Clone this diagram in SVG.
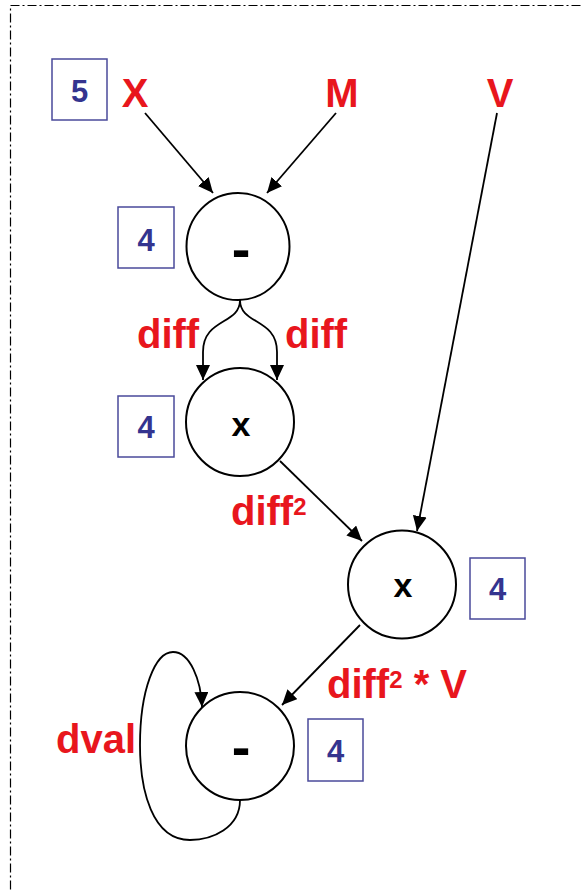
<svg xmlns="http://www.w3.org/2000/svg" width="582" height="892" viewBox="0 0 582 892">
<style>
.lbl{font-family:"Liberation Sans",Arial,sans-serif;font-weight:bold;font-size:40px;fill:#e8161d}
.num{font-family:"Liberation Sans",Arial,sans-serif;font-weight:bold;font-size:31px;fill:#34348f;text-anchor:middle}
.op{font-family:"Liberation Sans",Arial,sans-serif;font-weight:bold;fill:#000;text-anchor:middle}
.box{fill:#fff;stroke:#4a4a9a;stroke-width:1.5}
.node{fill:#fff;stroke:#000;stroke-width:2}
.edge{fill:none;stroke:#000;stroke-width:1.8}
</style>
<defs>
<marker id="ah" markerUnits="userSpaceOnUse" markerWidth="18" markerHeight="16" refX="15" refY="7" orient="auto">
<path d="M0,0 L15,7 L0,14 Z" fill="#000"/>
</marker>
</defs>
<rect x="10.5" y="5.5" width="700" height="1000" fill="#fff" stroke="#000" stroke-width="1.2" stroke-dasharray="9,3,2,3"/>

<g id="connectors">
<line class="edge" x1="145" y1="113" x2="213" y2="193" marker-end="url(#ah)"/>
<line class="edge" x1="336" y1="113" x2="267" y2="193" marker-end="url(#ah)"/>
<line class="edge" x1="497" y1="113" x2="417" y2="531" marker-end="url(#ah)"/>
<path class="edge" d="M240,300 C240,325 203,318 203,352 L203,380" marker-end="url(#ah)"/>
<path class="edge" d="M240,300 C240,325 277,318 277,352 L277,380" marker-end="url(#ah)"/>
<line class="edge" x1="280" y1="461" x2="362" y2="541" marker-end="url(#ah)"/>
<line class="edge" x1="360" y1="625" x2="282" y2="705" marker-end="url(#ah)"/>
<path class="edge" d="M240,800 C240,828 212,840 190,840 C152,840 140,790 140,745 C140,690 155,652 173,652 C190,652 201,680 202,707" marker-end="url(#ah)"/>
</g>

<g id="inputs">
<rect class="box" x="52" y="59" width="55" height="61"/>
<text class="num" x="79.5" y="102">5</text>
<text class="lbl" x="135" y="107" text-anchor="middle">X</text>
<text class="lbl" x="342" y="107" text-anchor="middle">M</text>
<text class="lbl" x="500" y="107" text-anchor="middle">V</text>
</g>

<g id="n1">
<ellipse class="node" cx="238" cy="246.5" rx="51.5" ry="53.5"/>
<text class="op" x="241" y="268" font-size="56">-</text>
<rect class="box" x="118" y="207" width="56" height="61"/>
<text class="num" x="146" y="251">4</text>
</g>

<g id="n2">
<circle class="node" cx="240" cy="422" r="54"/>
<text class="op" x="241" y="436" font-size="34">x</text>
<rect class="box" x="118" y="396" width="56" height="61"/>
<text class="num" x="146" y="438">4</text>
</g>

<g id="n3">
<circle class="node" cx="402" cy="584.5" r="54"/>
<text class="op" x="403" y="597" font-size="34">x</text>
<rect class="box" x="470" y="558" width="55" height="61"/>
<text class="num" x="497.5" y="600">4</text>
</g>

<g id="n4">
<circle class="node" cx="240" cy="746" r="54"/>
<text class="op" x="241" y="766" font-size="56">-</text>
<rect class="box" x="308" y="719" width="55" height="62"/>
<text class="num" x="335.5" y="762">4</text>
</g>

<g id="labels">
<text class="lbl" x="137" y="348">diff</text>
<text class="lbl" x="285" y="348">diff</text>
<text class="lbl" x="231" y="525">diff<tspan font-size="24" dy="-10">2</tspan></text>
<text class="lbl" x="327" y="698">diff<tspan font-size="24" dy="-10">2</tspan><tspan dy="10"> * V</tspan></text>
<text class="lbl" x="56" y="753">dval</text>
</g>
</svg>
